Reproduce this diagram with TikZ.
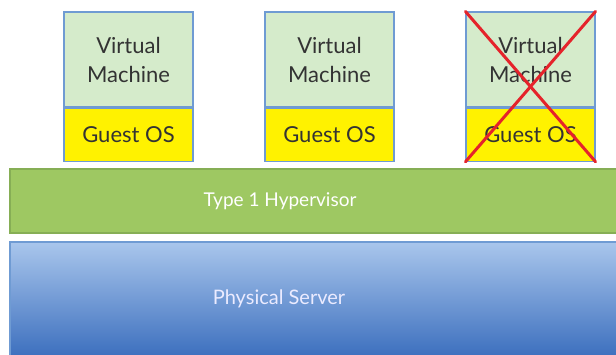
\documentclass[tikz,border=0pt]{standalone}
\usepackage{fontspec}
\setmainfont{Lato}
\usetikzlibrary{positioning}

\definecolor{vmgreen}{HTML}{D5EBCB}
\definecolor{osyellow}{HTML}{FFF200}
\definecolor{edgeblue}{HTML}{6F9BD3}
\definecolor{hypgreen}{HTML}{9EC862}
\definecolor{hypedge}{HTML}{86AE55}
\definecolor{srvtop}{HTML}{A9C6EC}
\definecolor{srvbot}{HTML}{3C6FBE}
\definecolor{crossred}{HTML}{E5232B}
\definecolor{txtgray}{HTML}{333333}

\tikzset{
	vmbox/.style = {draw=edgeblue, line width=1.2pt, fill=vmgreen,
		minimum width=129pt, minimum height=95pt, inner sep=0pt,
		align=center, text=txtgray, font=\fontsize{22}{29}\selectfont},
	osbox/.style = {draw=edgeblue, line width=1.2pt, fill=osyellow,
		minimum width=129pt, minimum height=53pt, inner sep=0pt,
		text=txtgray, font=\fontsize{22}{29}\selectfont},
	crossline/.style = {crossred, line width=3pt, line cap=round}
}

\begin{document}
\begin{tikzpicture}[x=1pt, y=-1pt]
	\useasboundingbox (0,0) rectangle (616,354);
	% layers
	\shade[top color=srvtop, bottom color=srvbot, draw=edgeblue, line width=1.2pt]
		(10,242) rectangle (640,357);
	\node (srv) at (279,299) [text=white!92!blue, font=\fontsize{20}{22}\selectfont] {Physical Server};
	\filldraw[fill=hypgreen, draw=hypedge, line width=1.2pt] (10,169) rectangle (640,233);
	\node (hyp) at (280,201) [text=white, font=\fontsize{19}{22}\selectfont] {Type 1 Hypervisor};
	% virtual machines
	\node (vm1) at (128.5,59.5) [vmbox] {Virtual\\Machine};
	\node (os1) [osbox, below=0pt of vm1] {Guest OS};
	\node (vm2) at (329.5,59.5) [vmbox] {Virtual\\Machine};
	\node (os2) [osbox, below=0pt of vm2] {Guest OS};
	\node (vm3) at (530.5,59.5) [vmbox] {Virtual\\Machine};
	\node (os3) [osbox, below=0pt of vm3] {Guest OS};
	% crossed out
	\draw[crossline] (vm3.north west) -- (os3.south east);
	\draw[crossline] (vm3.north east) -- (os3.south west);
\end{tikzpicture}
\end{document}
